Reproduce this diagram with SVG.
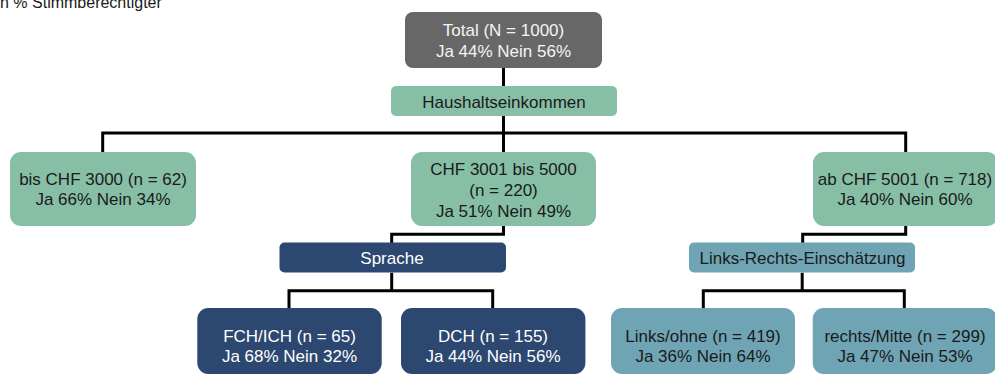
<svg xmlns="http://www.w3.org/2000/svg" width="995" height="376" viewBox="0 0 995 376">
<style>
text{font-family:"Liberation Sans",Arial,sans-serif;font-size:17px;text-anchor:middle}
.gray{fill:#676767}
.green{fill:#86bfa6}
.blue{fill:#2c4770}
.teal{fill:#6fa4b4}
.dk{fill:#1a1a1a}
.lt{fill:#f4f4f4}
.wh{fill:#ffffff}
.conn{fill:none;stroke:#000;stroke-width:3;stroke-linejoin:miter}
</style>
<rect width="995" height="376" fill="#ffffff"/>
<text x="0" y="8" style="text-anchor:start;font-size:16px" class="dk">n % Stimmberechtigter</text>
<g id="connectors">
<path class="conn" d="M503.5,68 V86"/>
<path class="conn" d="M503.5,116 V133 M102.7,152 V133 H905.7 V152 M503.5,133 V152"/>
<path class="conn" d="M503.5,226 V234.3 H391.7 V243"/>
<path class="conn" d="M391.7,272.7 V290.7 M289,308 V290.7 H492.7 V308"/>
<path class="conn" d="M905.7,226 V234.3 H802.7 V243"/>
<path class="conn" d="M802.2,272.7 V290.7 M703.3,308 V290.7 H904.3 V308"/>
</g>
<g id="total">
<rect class="gray" x="405" y="12" width="197" height="56" rx="8"/>
<text class="lt" x="503.5" y="36">Total (N = 1000)</text>
<text class="lt" x="503.5" y="57">Ja 44% Nein 56%</text>
</g>
<g id="haushaltseinkommen">
<rect class="green" x="391" y="86" width="226" height="30" rx="5"/>
<text class="dk" x="504" y="108">Haushaltseinkommen</text>
</g>
<g id="bis3000">
<rect class="green" x="10" y="152" width="186" height="74" rx="11"/>
<text class="dk" x="103" y="185">bis CHF 3000 (n = 62)</text>
<text class="dk" x="103" y="205">Ja 66% Nein 34%</text>
</g>
<g id="chf3001">
<rect class="green" x="411" y="152" width="185" height="74" rx="11"/>
<text class="dk" x="503.5" y="175">CHF 3001 bis 5000</text>
<text class="dk" x="503.5" y="196">(n = 220)</text>
<text class="dk" x="503.5" y="216.5">Ja 51% Nein 49%</text>
</g>
<g id="ab5001">
<rect class="green" x="813" y="152" width="185" height="74" rx="11"/>
<text class="dk" x="905" y="185">ab CHF 5001 (n = 718)</text>
<text class="dk" x="905" y="205">Ja 40% Nein 60%</text>
</g>
<g id="sprache">
<rect class="blue" x="279.5" y="242.5" width="226.5" height="30" rx="5"/>
<text class="wh" x="392" y="264">Sprache</text>
</g>
<g id="linksrechts">
<rect class="teal" x="689" y="242.5" width="226" height="30" rx="5"/>
<text class="dk" x="802.5" y="264">Links-Rechts-Einschätzung</text>
</g>
<g id="fch">
<rect class="blue" x="197.3" y="308" width="184.4" height="66" rx="11"/>
<text class="wh" x="289.5" y="342">FCH/ICH (n = 65)</text>
<text class="wh" x="289.5" y="361.5">Ja 68% Nein 32%</text>
</g>
<g id="dch">
<rect class="blue" x="401" y="308" width="184.4" height="66" rx="11"/>
<text class="wh" x="493" y="342">DCH (n = 155)</text>
<text class="wh" x="493" y="361.5">Ja 44% Nein 56%</text>
</g>
<g id="links">
<rect class="teal" x="611" y="308" width="184" height="66" rx="11"/>
<text class="dk" x="703" y="342">Links/ohne (n = 419)</text>
<text class="dk" x="703" y="361.5">Ja 36% Nein 64%</text>
</g>
<g id="rechts">
<rect class="teal" x="812.7" y="308" width="184.4" height="66" rx="11"/>
<text class="dk" x="905" y="342">rechts/Mitte (n = 299)</text>
<text class="dk" x="905" y="361.5">Ja 47% Nein 53%</text>
</g>
</svg>
